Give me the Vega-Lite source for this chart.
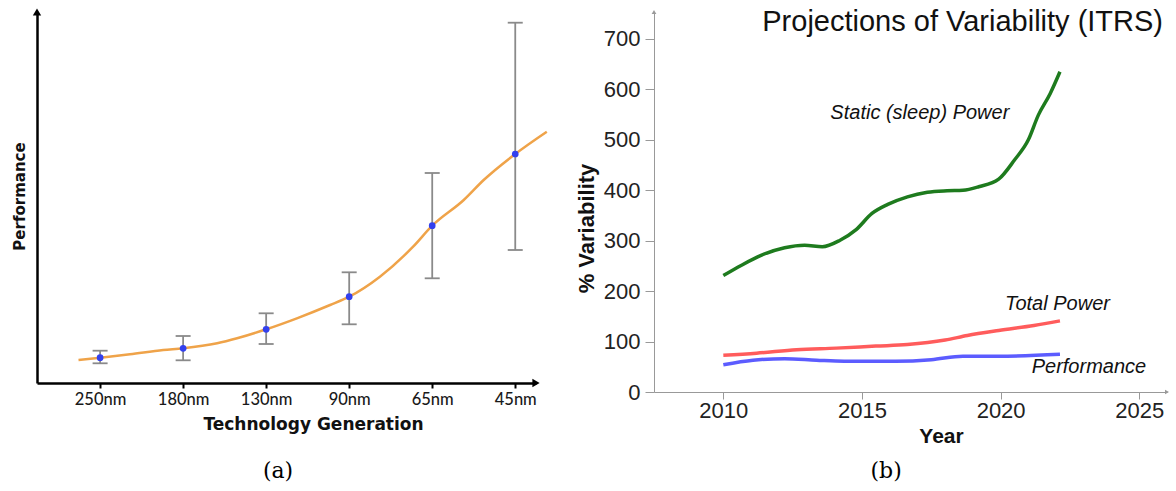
{
  "$schema": "https://vega.github.io/schema/vega-lite/v6.json",
  "background": "white",
  "padding": {"left": 12, "top": 7, "right": 5, "bottom": 5},
  "bounds": "flush",
  "spacing": 118,
  "config": {"view": {"stroke": null}, "axis": {"grid": false}},
  "datasets": {
    "curve": [
      {"idx": -0.26, "perf": 23}, {"idx": 0, "perf": 25.3}, {"idx": 0.36, "perf": 28.7},
      {"idx": 0.76, "perf": 33}, {"idx": 1, "perf": 34.7}, {"idx": 1.41, "perf": 39.7},
      {"idx": 1.65, "perf": 44.7}, {"idx": 2, "perf": 53.7}, {"idx": 2.37, "perf": 64.7},
      {"idx": 2.77, "perf": 78}, {"idx": 3, "perf": 86.3}, {"idx": 3.37, "perf": 106.3},
      {"idx": 3.77, "perf": 136.3}, {"idx": 4, "perf": 157.3}, {"idx": 4.38, "perf": 183},
      {"idx": 4.62, "perf": 203}, {"idx": 5, "perf": 229}, {"idx": 5.38, "perf": 251.3}
    ],
    "gens": [
      {"gen": "250nm", "idx": 0, "perf": 25.3, "lo": 19.7, "hi": 32.3},
      {"gen": "180nm", "idx": 1, "perf": 34.7, "lo": 22.7, "hi": 47},
      {"gen": "130nm", "idx": 2, "perf": 53.7, "lo": 39, "hi": 69.7},
      {"gen": "90nm", "idx": 3, "perf": 86.3, "lo": 58.7, "hi": 110.7},
      {"gen": "65nm", "idx": 4, "perf": 157.3, "lo": 104.7, "hi": 210},
      {"gen": "45nm", "idx": 5, "perf": 229, "lo": 133, "hi": 360.3}
    ],
    "itrs": [
      {"series": "Static (sleep) Power", "year": 2010, "value": 231},
      {"series": "Static (sleep) Power", "year": 2010.64, "value": 251},
      {"series": "Static (sleep) Power", "year": 2011.36, "value": 271},
      {"series": "Static (sleep) Power", "year": 2012.21, "value": 286},
      {"series": "Static (sleep) Power", "year": 2012.93, "value": 291},
      {"series": "Static (sleep) Power", "year": 2013.57, "value": 288},
      {"series": "Static (sleep) Power", "year": 2014.21, "value": 301},
      {"series": "Static (sleep) Power", "year": 2014.79, "value": 322},
      {"series": "Static (sleep) Power", "year": 2015.36, "value": 354},
      {"series": "Static (sleep) Power", "year": 2015.93, "value": 372},
      {"series": "Static (sleep) Power", "year": 2016.64, "value": 387},
      {"series": "Static (sleep) Power", "year": 2017.36, "value": 396},
      {"series": "Static (sleep) Power", "year": 2018.07, "value": 399},
      {"series": "Static (sleep) Power", "year": 2018.64, "value": 400},
      {"series": "Static (sleep) Power", "year": 2019.21, "value": 407},
      {"series": "Static (sleep) Power", "year": 2019.93, "value": 422},
      {"series": "Static (sleep) Power", "year": 2020.5, "value": 460},
      {"series": "Static (sleep) Power", "year": 2021.0, "value": 500},
      {"series": "Static (sleep) Power", "year": 2021.36, "value": 549},
      {"series": "Static (sleep) Power", "year": 2021.79, "value": 592},
      {"series": "Static (sleep) Power", "year": 2022.14, "value": 635},
      {"series": "Total Power", "year": 2010, "value": 73},
      {"series": "Total Power", "year": 2011.2, "value": 77},
      {"series": "Total Power", "year": 2012.64, "value": 84},
      {"series": "Total Power", "year": 2014.07, "value": 87},
      {"series": "Total Power", "year": 2015.5, "value": 91},
      {"series": "Total Power", "year": 2016.64, "value": 94},
      {"series": "Total Power", "year": 2018.0, "value": 103},
      {"series": "Total Power", "year": 2018.8, "value": 112},
      {"series": "Total Power", "year": 2019.93, "value": 122},
      {"series": "Total Power", "year": 2021.2, "value": 132},
      {"series": "Total Power", "year": 2022.14, "value": 141},
      {"series": "Performance", "year": 2010, "value": 54},
      {"series": "Performance", "year": 2011.07, "value": 63},
      {"series": "Performance", "year": 2012.21, "value": 66},
      {"series": "Performance", "year": 2013.36, "value": 63},
      {"series": "Performance", "year": 2014.36, "value": 61},
      {"series": "Performance", "year": 2016.21, "value": 61},
      {"series": "Performance", "year": 2017.5, "value": 64},
      {"series": "Performance", "year": 2018.64, "value": 71},
      {"series": "Performance", "year": 2019.93, "value": 71},
      {"series": "Performance", "year": 2022.14, "value": 75}
    ],
    "itrsLabels": [
      {"label": "Static (sleep) Power", "year": 2013.86, "value": 541},
      {"label": "Total Power", "year": 2020.16, "value": 162.6},
      {"label": "Performance", "year": 2021.12, "value": 38.3}
    ]
  },
  "hconcat": [
    {
      "width": 499,
      "height": 371,
      "layer": [
        {
          "data": {"name": "curve"},
          "mark": {"type": "line", "color": "#EFA349", "strokeWidth": 2.5, "interpolate": "monotone"},
          "encoding": {
            "x": {
              "field": "idx", "type": "quantitative",
              "scale": {"domain": [-0.76, 5.25], "nice": false, "zero": false},
              "axis": {
                "values": [0, 1, 2, 3, 4, 5],
                "labelExpr": "['250nm','180nm','130nm','90nm','65nm','45nm'][datum.value]",
                "domainColor": "#000", "domainWidth": 2.5,
                "tickColor": "#000", "tickSize": 5, "tickWidth": 2,
                "labelFont": "Lato", "labelFontSize": 16.5, "labelFontWeight": 500, "labelColor": "#1a1a1a", "labelPadding": 3,
                "title": "Technology Generation",
                "titleFont": "DejaVu Sans", "titleFontSize": 17, "titleFontWeight": "bold", "titleColor": "#111",
                "titleX": 276, "titleY": 46, "titleBaseline": "alphabetic"
              }
            },
            "y": {
              "field": "perf", "type": "quantitative",
              "scale": {"domain": [0, 371], "nice": false},
              "axis": {
                "ticks": false, "labels": false,
                "domainColor": "#000", "domainWidth": 2.5,
                "title": "Performance",
                "titleFont": "DejaVu Sans", "titleFontSize": 15, "titleFontWeight": "bold", "titleColor": "#111",
                "titleX": -13, "titleY": 184, "titleBaseline": "alphabetic"
              }
            }
          }
        },
        {
          "data": {"name": "gens"},
          "mark": {"type": "rule", "color": "#8a8a8a", "strokeWidth": 1.8},
          "encoding": {
            "x": {"field": "idx", "type": "quantitative"},
            "y": {"field": "lo", "type": "quantitative"},
            "y2": {"field": "hi"}
          }
        },
        {
          "data": {"name": "gens"},
          "mark": {"type": "tick", "orient": "horizontal", "size": 15, "thickness": 1.8, "color": "#8a8a8a", "opacity": 1},
          "encoding": {
            "x": {"field": "idx", "type": "quantitative"},
            "y": {"field": "lo", "type": "quantitative"}
          }
        },
        {
          "data": {"name": "gens"},
          "mark": {"type": "tick", "orient": "horizontal", "size": 15, "thickness": 1.8, "color": "#8a8a8a", "opacity": 1},
          "encoding": {
            "x": {"field": "idx", "type": "quantitative"},
            "y": {"field": "hi", "type": "quantitative"}
          }
        },
        {
          "data": {"name": "gens"},
          "mark": {"type": "circle", "size": 45, "color": "#3340EE", "opacity": 1},
          "encoding": {
            "x": {"field": "idx", "type": "quantitative"},
            "y": {"field": "perf", "type": "quantitative"}
          }
        },
        {
          "data": {"values": [{}]},
          "mark": {"type": "point", "shape": "triangle-up", "filled": true, "size": 70, "color": "#000", "opacity": 1},
          "encoding": {
            "x": {"datum": -0.76, "type": "quantitative"},
            "y": {"datum": 371, "type": "quantitative"}
          }
        },
        {
          "data": {"values": [{}]},
          "mark": {"type": "point", "shape": "triangle-right", "filled": true, "size": 70, "color": "#000", "opacity": 1},
          "encoding": {
            "x": {"datum": 5.25, "type": "quantitative"},
            "y": {"datum": 0, "type": "quantitative"}
          }
        },
        {
          "data": {"values": [{"caption": "(a)"}]},
          "mark": {"type": "text", "font": "DejaVu Serif", "fontSize": 22, "color": "#000", "align": "center", "baseline": "alphabetic"},
          "encoding": {
            "x": {"datum": 2.143, "type": "quantitative"},
            "y": {"datum": -95, "type": "quantitative"},
            "text": {"field": "caption"}
          }
        }
      ]
    },
    {
      "width": 513,
      "height": 380,
      "title": {
        "text": "Projections of Variability (ITRS)",
        "anchor": "end", "frame": "group", "orient": "top",
        "font": "Liberation Sans", "fontSize": 29, "fontWeight": "normal", "color": "#111",
        "baseline": "alphabetic", "offset": -50, "dx": -4
      },
      "layer": [
        {
          "data": {"name": "itrs"},
          "mark": {"type": "line", "strokeWidth": 3.5, "interpolate": "monotone"},
          "encoding": {
            "x": {
              "field": "year", "type": "quantitative",
              "scale": {"domain": [2007.5, 2026], "nice": false, "zero": false},
              "axis": {
                "values": [2010, 2015, 2020, 2025], "format": "d",
                "domainColor": "#999", "domainWidth": 1,
                "tickColor": "#999", "tickSize": 7, "tickWidth": 1,
                "labelFont": "Liberation Sans", "labelFontSize": 22, "labelColor": "#222", "labelPadding": 1,
                "title": "Year",
                "titleFont": "Liberation Sans", "titleFontSize": 21, "titleFontWeight": "bold", "titleColor": "#111",
                "titleX": 287, "titleY": 50, "titleBaseline": "alphabetic"
              }
            },
            "y": {
              "field": "value", "type": "quantitative",
              "scale": {"domain": [0, 753.5], "nice": false},
              "axis": {
                "values": [0, 100, 200, 300, 400, 500, 600, 700],
                "domainColor": "#999", "domainWidth": 1,
                "tickColor": "#999", "tickSize": 9, "tickWidth": 1,
                "labelFont": "Liberation Sans", "labelFontSize": 22, "labelColor": "#222", "labelPadding": 5,
                "title": "% Variability",
                "titleFont": "Liberation Sans", "titleFontSize": 22, "titleFontWeight": "bold", "titleColor": "#111",
                "titleX": -61, "titleY": 216, "titleBaseline": "alphabetic"
              }
            },
            "color": {
              "field": "series", "type": "nominal",
              "scale": {"domain": ["Static (sleep) Power", "Total Power", "Performance"], "range": ["#1E7B1E", "#FF5C5C", "#5C5CFF"]},
              "legend": null
            }
          }
        },
        {
          "data": {"name": "itrsLabels"},
          "mark": {"type": "text", "font": "Liberation Sans", "fontSize": 20, "fontStyle": "italic", "color": "#111", "align": "left", "baseline": "alphabetic"},
          "encoding": {
            "x": {"field": "year", "type": "quantitative"},
            "y": {"field": "value", "type": "quantitative"},
            "text": {"field": "label"}
          }
        },
        {
          "data": {"values": [{}]},
          "mark": {"type": "point", "shape": "triangle-up", "filled": true, "size": 22, "color": "#999", "opacity": 1},
          "encoding": {
            "x": {"datum": 2007.5, "type": "quantitative"},
            "y": {"datum": 753.5, "type": "quantitative"}
          }
        },
        {
          "data": {"values": [{}]},
          "mark": {"type": "point", "shape": "triangle-right", "filled": true, "size": 22, "color": "#999", "opacity": 1},
          "encoding": {
            "x": {"datum": 2026, "type": "quantitative"},
            "y": {"datum": 0, "type": "quantitative"}
          }
        },
        {
          "data": {"values": [{"caption": "(b)"}]},
          "mark": {"type": "text", "font": "DejaVu Serif", "fontSize": 22, "color": "#000", "align": "center", "baseline": "alphabetic"},
          "encoding": {
            "x": {"datum": 2015.87, "type": "quantitative"},
            "y": {"datum": -170, "type": "quantitative"},
            "text": {"field": "caption"}
          }
        }
      ]
    }
  ]
}
